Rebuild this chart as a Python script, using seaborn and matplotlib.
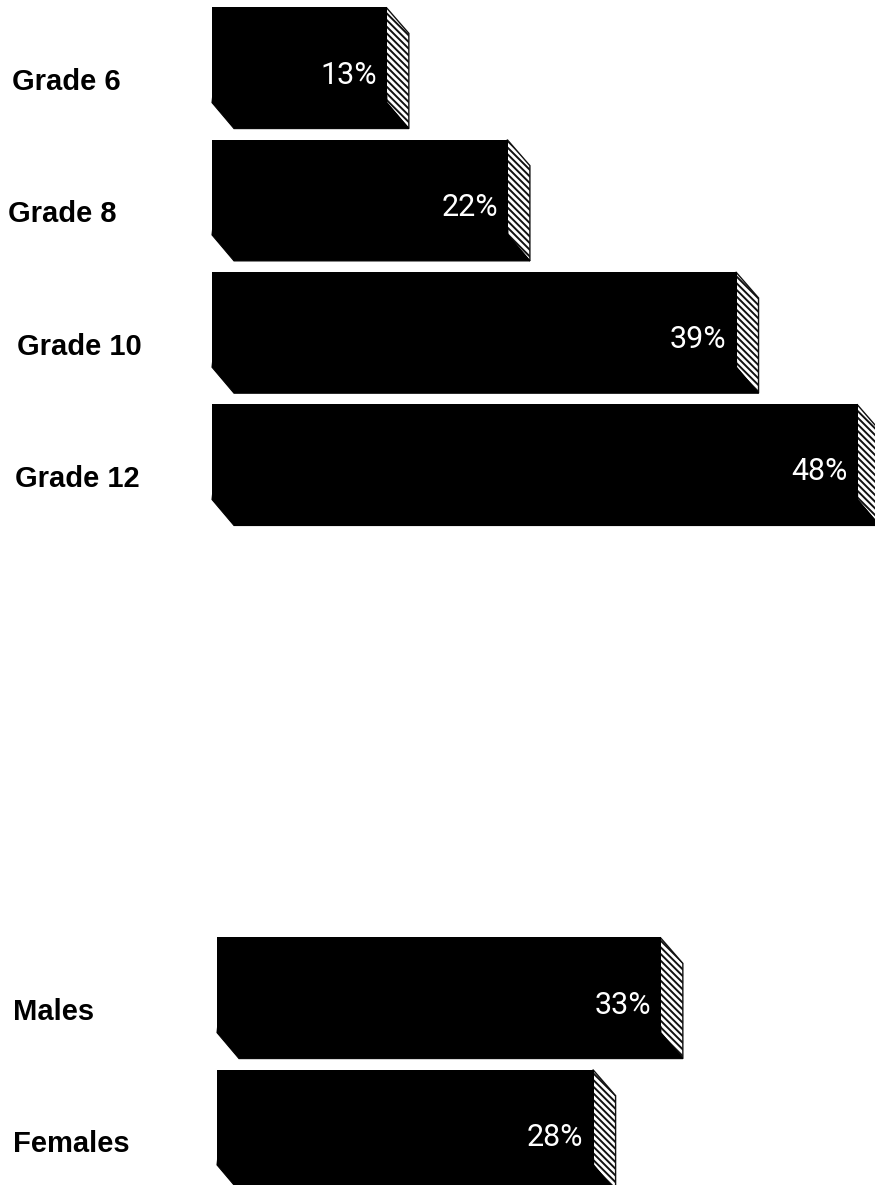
import matplotlib
matplotlib.use("Agg")
import matplotlib.pyplot as plt
import matplotlib.transforms as mtransforms
from matplotlib.patches import Polygon
import pandas as pd
import seaborn as sns

# ---- data ----
grade_labels = ["Grade 6", "Grade 8", "Grade 10", "Grade 12"]
grade_values = [13, 22, 39, 48]
sex_labels = ["Males", "Females"]
sex_values = [33, 28]

# ---- style / layout ----
sns.set_style("white")
plt.rcParams["font.family"] = ["Liberation Sans", "DejaVu Sans"]
plt.rcParams["hatch.linewidth"] = 1.4

W, H = 875, 1185
fig = plt.figure(figsize=(W / 100, H / 100), dpi=100)
fig.patch.set_facecolor("white")

PX_PER_PCT = 13.45
PITCH = 132.3
BAR_W = 0.72
DEPTH_DX, DEPTH_DY = 22, 26
LABEL_DY = 27
PCT_DY = 20
PCT_GAP = 10


def draw_group(labels, values, left_px, top_px, bottom_px, first_center_px, label_x_px):
    ax = fig.add_axes([left_px / W, 1 - bottom_px / H,
                       (W - left_px) / W, (bottom_px - top_px) / H])
    df = pd.DataFrame({"label": labels, "value": values})
    sns.barplot(data=df, x="value", y="label", orient="h", color="black",
                saturation=1, width=BAR_W, linewidth=0, ax=ax)
    xmax = (W - left_px) / PX_PER_PCT
    ytop = -(first_center_px - top_px) / PITCH
    ybot = ytop + (bottom_px - top_px) / PITCH
    ax.set_xlim(0, xmax)
    ax.set_ylim(ybot, ytop)
    ax.set_axis_off()

    dx = DEPTH_DX / PX_PER_PCT
    dy = DEPTH_DY / PITCH
    lab_tr = mtransforms.blended_transform_factory(fig.transFigure, ax.transData)
    for i, (p, lab, val) in enumerate(zip(ax.patches, labels, values)):
        x0, w = p.get_x(), p.get_width()
        y0, h = p.get_y(), p.get_height()
        p.set_zorder(2)
        R = x0 + w
        yb = y0 + h
        ov = 0.05
        side = Polygon([(R - 0.05, y0), (R + dx, y0 + dy), (R + dx, yb + dy), (R - 0.05, yb)],
                       closed=True, facecolor="white", edgecolor="#111111",
                       hatch="\\\\\\\\\\", linewidth=1.0, clip_on=False, zorder=1)
        bottom = Polygon([(x0 + 0.05, yb - ov), (R, yb - ov), (R, yb), (R + dx, yb + dy),
                          (x0 + dx, yb + dy), (x0, yb)],
                         closed=True, facecolor="black", edgecolor="black",
                         linewidth=0.8, clip_on=False, zorder=1.5)
        ax.add_patch(side)
        ax.add_patch(bottom)
        yc = y0 + h / 2
        ax.text(R - PCT_GAP / PX_PER_PCT, yc + PCT_DY / PITCH, f"{val}%",
                ha="right", va="center", color="white", fontsize=22, zorder=3,
                family=["Roboto", "Liberation Sans"], fontweight="normal")
        ax.text(label_x_px[i] / W, yc + LABEL_DY / PITCH, lab, transform=lab_tr,
                ha="left", va="center", color="black", fontsize=21,
                fontweight="bold")
    return ax


draw_group(grade_labels, grade_values, 212, 0, 540, 55, [12, 8, 17, 15])
draw_group(sex_labels, sex_values, 217, 900, 1185, 985, [13, 13])

fig.savefig("out.png", dpi=100, facecolor="white")
